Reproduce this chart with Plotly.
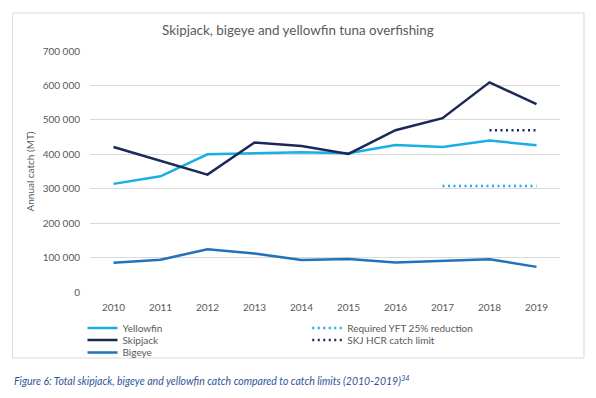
import plotly.graph_objects as go

years = ["2010", "2011", "2012", "2013", "2014", "2015", "2016", "2017", "2018", "2019"]
yellowfin = [314000, 336000, 400000, 402000, 406000, 403000, 427000, 421000, 440000, 426000]
skipjack = [421000, 380000, 341000, 434000, 424000, 401000, 470000, 505000, 609000, 546000]
bigeye = [85000, 94000, 124000, 112000, 93000, 96000, 86000, 90000, 95000, 73000]
yft_years = ["2017", "2018", "2019"]
yft_limit = [308000, 308000, 308000]
skj_years = ["2018", "2019"]
skj_limit = [470000, 470000]
y_ticks = [0, 100000, 200000, 300000, 400000, 500000, 600000, 700000]
y_tick_labels = ["0", "100 000", "200 000", "300 000", "400 000", "500 000", "600 000", "700 000"]

C_YF = "#1AADE6"
C_SK = "#1B2858"
C_BE = "#2172B8"
GREY = "#595959"
FONT = "Lato"

W, H = 596, 398
L, R, T, B = 89.5, 560, 51, 292
pw, ph = R - L, B - T

def px(x):
    return (x - L) / pw

def py(y):
    return (B - y) / ph

fig = go.Figure()
fig.add_trace(go.Scatter(x=years, y=yellowfin, name="Yellowfin", mode="lines",
                         line=dict(color=C_YF, width=2.5), legend="legend"))
fig.add_trace(go.Scatter(x=years, y=skipjack, name="Skipjack", mode="lines",
                         line=dict(color=C_SK, width=2.5), legend="legend2"))
fig.add_trace(go.Scatter(x=years, y=bigeye, name="Bigeye", mode="lines",
                         line=dict(color=C_BE, width=2.5), legend="legend3"))
fig.add_trace(go.Scatter(x=yft_years, y=yft_limit, name="Required YFT 25% reduction", mode="lines",
                         line=dict(color=C_YF, width=2.5, dash="2px,3.5px"), legend="legend4"))
fig.add_trace(go.Scatter(x=skj_years, y=skj_limit, name="SKJ HCR catch limit", mode="lines",
                         line=dict(color=C_SK, width=2.5, dash="2px,3.5px"), legend="legend5"))

leg_common = dict(xanchor="left", yanchor="middle", bgcolor="rgba(0,0,0,0)",
                  font=dict(family=FONT, size=10, color=GREY), itemwidth=30)
layout_legends = {
    "legend": dict(x=px(82), y=py(328), **leg_common),
    "legend2": dict(x=px(82), y=py(340), **leg_common),
    "legend3": dict(x=px(82), y=py(352.5), **leg_common),
    "legend4": dict(x=px(307), y=py(328), **leg_common),
    "legend5": dict(x=px(307), y=py(340), **leg_common),
}

fig.update_layout(
    width=W, height=H,
    margin=dict(l=L, r=W - R, t=T, b=H - B, pad=0, autoexpand=False),
    paper_bgcolor="white", plot_bgcolor="white",
    font=dict(family=FONT, size=10, color=GREY),
    showlegend=True,
    xaxis=dict(type="category", range=[-0.5, 9.5], showgrid=False, zeroline=False, showline=False,
               automargin=False,
               ticks="", tickfont=dict(size=10, color=GREY), ticklabelstandoff=8),
    yaxis=dict(range=[0, 700000], tickvals=y_ticks, ticktext=y_tick_labels,
               automargin=False,
               showgrid=True, gridcolor="#D9D9D9", gridwidth=1, zeroline=False,
               showline=False, ticks="", tickfont=dict(size=10, color=GREY),
               ticklabelstandoff=9,
               title=dict(text="Annual catch (MT)", font=dict(size=10, color=GREY), standoff=6)),
    **layout_legends,
)

fig.add_shape(type="rect", xref="paper", yref="paper",
              x0=px(12), x1=px(584), y0=py(358), y1=py(13),
              line=dict(color="#D9D9D9", width=1), fillcolor="rgba(0,0,0,0)", layer="below")

fig.add_annotation(text="Skipjack, bigeye and yellowfin tuna overfishing",
                   xref="paper", yref="paper", x=px(297.5), y=py(30),
                   xanchor="center", yanchor="middle", showarrow=False,
                   font=dict(family=FONT, size=13.4, color=GREY))

fig.add_annotation(text="<i>Figure 6: Total skipjack, bigeye and yellowfin catch compared to catch limits (2010-2019)<sup>34</sup></i>",
                   xref="paper", yref="paper", x=px(11), y=py(380),
                   xanchor="left", yanchor="middle", showarrow=False,
                   font=dict(family=FONT, size=10.5, color="#2F5597"))

fig.write_html("out.html", config={"displayModeBar": False},
               post_script="document.body.style.margin='0';document.body.style.overflow='hidden';")
